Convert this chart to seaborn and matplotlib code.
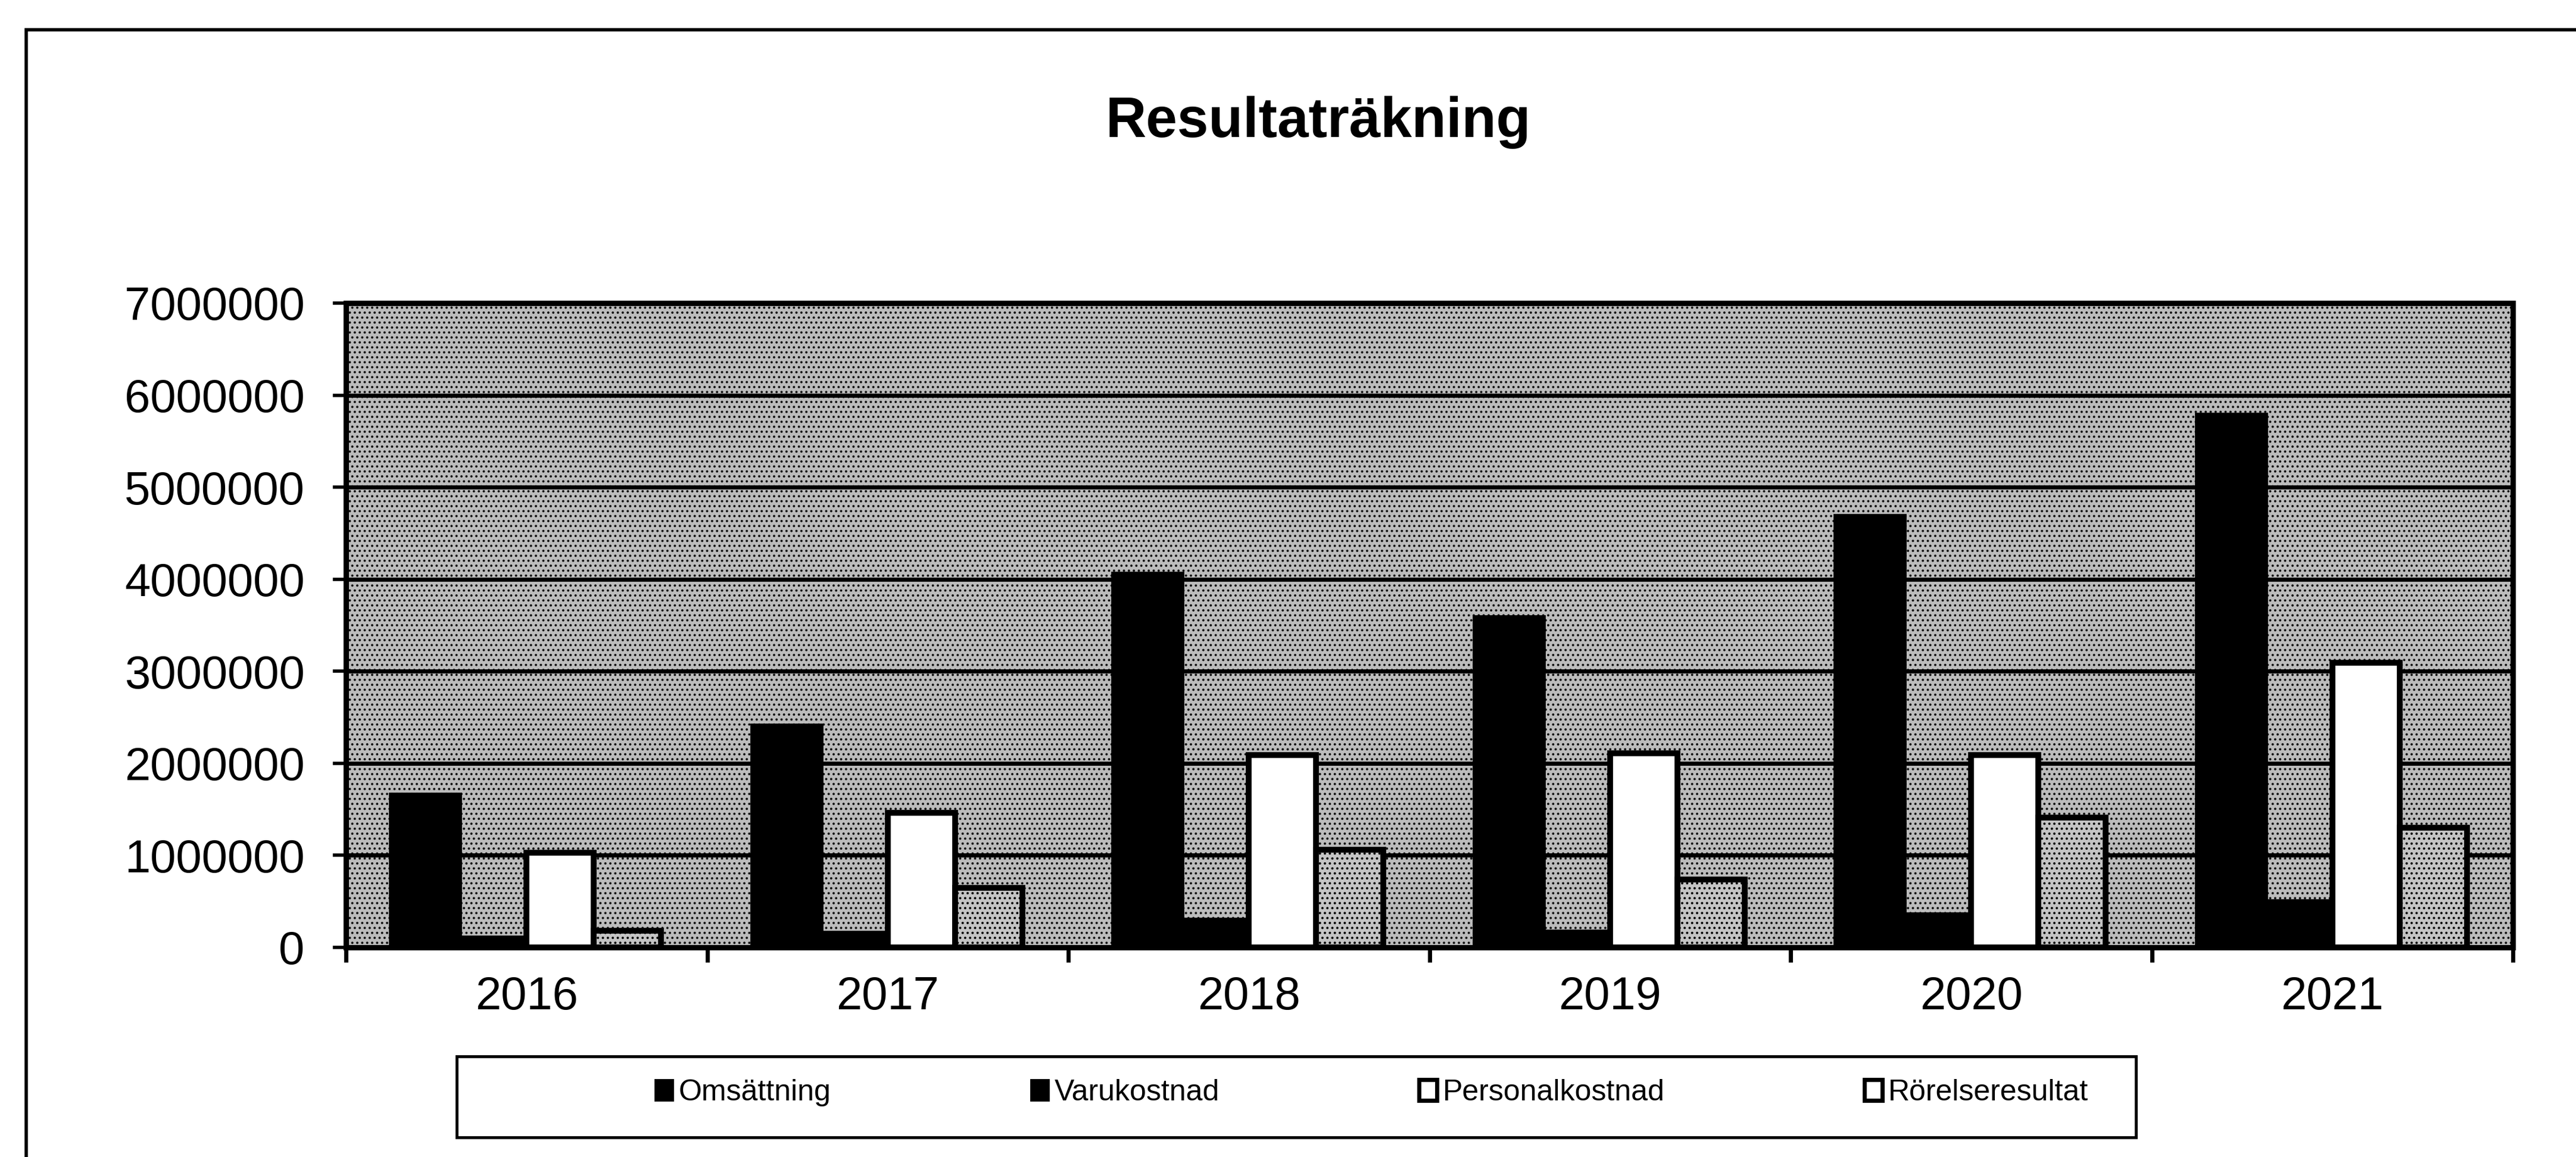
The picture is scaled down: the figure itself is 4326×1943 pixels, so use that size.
import numpy as np
import pandas as pd
import matplotlib
matplotlib.use('Agg')
import matplotlib.pyplot as plt
from matplotlib.patches import Rectangle, Patch
import seaborn as sns

# ---- data ----
years = ['2016', '2017', '2018', '2019', '2020', '2021']
series = ['Omsättning', 'Varukostnad', 'Personalkostnad', 'Rörelseresultat']
omsattning = [1650000, 2400000, 4050000, 3580000, 4680000, 5780000]
varukostnad = [100000, 150000, 290000, 160000, 350000, 490000]
personalkostnad = [1030000, 1460000, 2090000, 2110000, 2090000, 3090000]
rorelseresultat = [180000, 650000, 1060000, 740000, 1410000, 1300000]
yticks = [0, 1000000, 2000000, 3000000, 4000000, 5000000, 6000000, 7000000]
title = 'Resultaträkning'

df = pd.DataFrame({'År': years,
                   series[0]: omsattning,
                   series[1]: varukostnad,
                   series[2]: personalkostnad,
                   series[3]: rorelseresultat})
long = df.melt(id_vars='År', var_name='Post', value_name='Belopp')

sns.set_style('white')
plt.rcParams['font.family'] = ['Liberation Sans', 'DejaVu Sans']
plt.rcParams['text.color'] = 'black'
plt.rcParams['xtick.color'] = 'black'
plt.rcParams['ytick.color'] = 'black'
plt.rcParams['axes.labelcolor'] = 'black'
plt.rcParams['hatch.linewidth'] = 1.6

W, H, DPI = 4326, 1943, 100
fig = plt.figure(figsize=(W / DPI, H / DPI), dpi=DPI)
fig.patch.set_facecolor('white')

ax = fig.add_axes([581 / W, 1 - 1591 / H, (4220 - 581) / W, (1591 - 509) / H])

# stippled plot-area background
ax.set_facecolor('#b8b8b8')
ax.add_patch(Rectangle((0, 0), 1, 1, transform=ax.transAxes, facecolor='#bcbcbc',
                       edgecolor='#111111', hatch='..', lw=0, zorder=0.1))

palette = {series[0]: 'black', series[1]: 'black',
           series[2]: 'white', series[3]: '#c4c4c4'}
sns.barplot(data=long, x='År', y='Belopp', hue='Post', hue_order=series,
            palette=palette, saturation=1, width=0.745, ax=ax, legend=False,
            edgecolor='black', linewidth=7, zorder=2)

for cont, name in zip(ax.containers, series):
    for bar in cont:
        bar.set_edgecolor('black')
        bar.set_linewidth(7)
        if name == 'Rörelseresultat':
            bar.set_hatch('..')

ax.set_xlim(-0.5, len(years) - 0.5)
ax.set_ylim(0, 7000000)
ax.set_yticks(yticks)
ax.set_yticklabels([str(v) for v in yticks])
ax.set_xlabel('')
ax.set_ylabel('')

ax.set_axisbelow(True)
ax.yaxis.grid(True, color='black', lw=5, zorder=0.5)
ax.xaxis.grid(False)

for sp in ax.spines.values():
    sp.set_visible(True)
    sp.set_color('black')
    sp.set_linewidth(6.5)
    sp.set_zorder(3)

ax.tick_params(axis='y', which='major', direction='out', length=16, width=4,
               pad=34, labelsize=56, color='black', labelcolor='black', left=True)
ax.tick_params(axis='x', which='major', length=0, pad=34, labelsize=56,
               labelcolor='black')
ax.set_xticks(np.arange(-0.5, len(years), 1.0), minor=True)
ax.tick_params(axis='x', which='minor', direction='out', length=18, width=5,
               color='black', bottom=True)

# title
fig.text(2214 / W, 1 - 230 / H, title, ha='center', va='baseline',
         fontsize=68, fontweight='bold', color='black')

# outer chart frame (cropped at right and bottom)
fig.add_artist(Rectangle((44 / W, -0.5), 2.0, (1 - 50 / H) + 0.5,
                         transform=fig.transFigure, fill=False,
                         edgecolor='black', lw=4))

# legend frame
fig.add_artist(Rectangle((767 / W, 1 - 1910 / H), (3587 - 767) / W, (1910 - 1774) / H,
                         transform=fig.transFigure, fill=False,
                         edgecolor='black', lw=3.5))

handles = [Patch(facecolor='black', edgecolor='black', lw=2),
           Patch(facecolor='black', edgecolor='black', lw=2),
           Patch(facecolor='white', edgecolor='black', lw=5),
           Patch(facecolor='white', edgecolor='black', lw=5)]
fig.legend(handles, series, loc='center left',
           bbox_to_anchor=(1100 / W, 1 - 1835 / H), bbox_transform=fig.transFigure,
           ncol=4, frameon=False, fontsize=36, borderpad=0, borderaxespad=0,
           handlelength=0.6, handleheight=0.7, handletextpad=0.2,
           columnspacing=6.7, labelcolor='black')

fig.savefig('out.png', dpi=DPI)
